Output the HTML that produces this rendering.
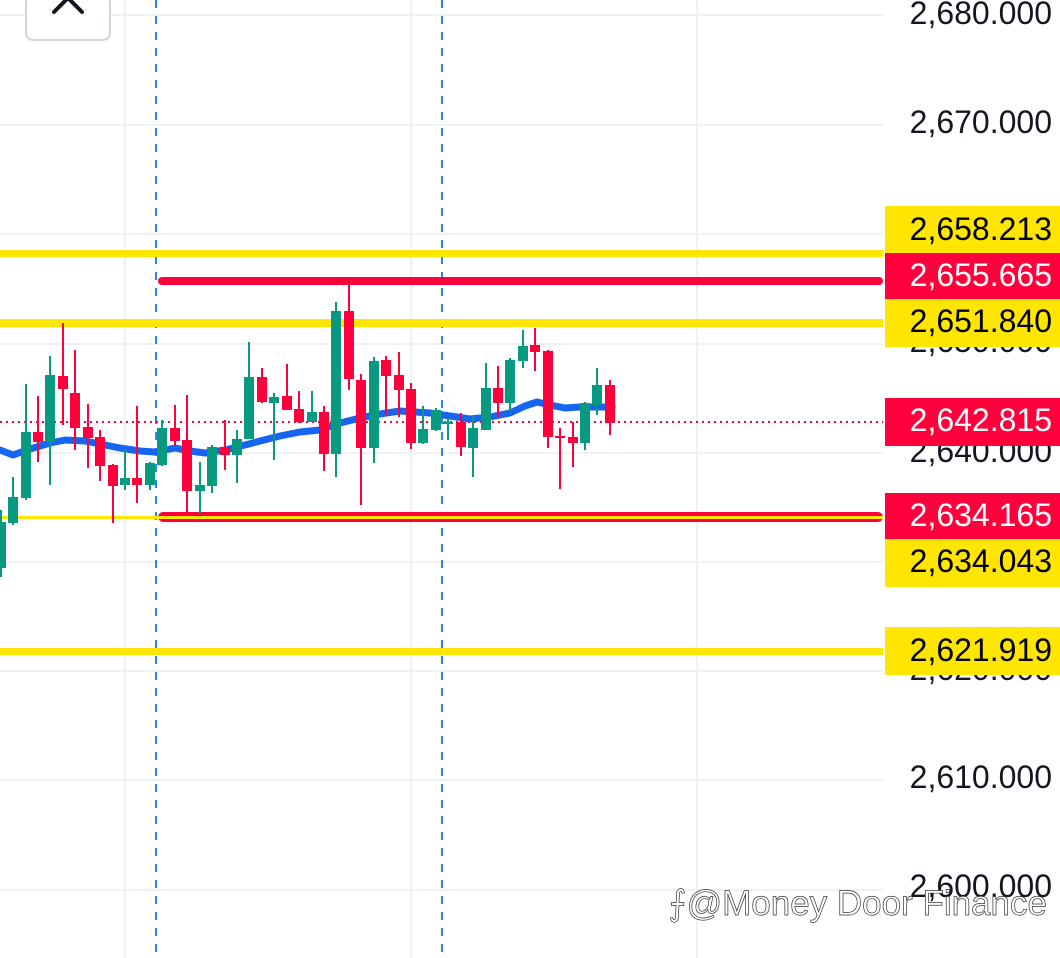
<!DOCTYPE html>
<html><head><meta charset="utf-8"><style>
html,body{margin:0;padding:0;background:#fff;}
svg{display:block;}
.lbl{font-family:"Liberation Sans",sans-serif;font-size:32px;}
</style></head><body>
<svg width="1060" height="958" viewBox="0 0 1060 958" xmlns="http://www.w3.org/2000/svg">
<g stroke="#f0f1f3" stroke-width="2">
<line x1="0" y1="15" x2="883" y2="15"/><line x1="0" y1="125" x2="883" y2="125"/><line x1="0" y1="234" x2="883" y2="234"/><line x1="0" y1="344" x2="883" y2="344"/><line x1="0" y1="453" x2="883" y2="453"/><line x1="0" y1="562" x2="883" y2="562"/><line x1="0" y1="671" x2="883" y2="671"/><line x1="0" y1="780" x2="883" y2="780"/><line x1="0" y1="890" x2="883" y2="890"/>
<line x1="125" y1="0" x2="125" y2="958"/><line x1="411" y1="0" x2="411" y2="958"/><line x1="697" y1="0" x2="697" y2="958"/>
</g>
<g stroke="#2e86ea" stroke-width="2" stroke-dasharray="8,8">
<line x1="156" y1="0" x2="156" y2="958"/><line x1="442" y1="0" x2="442" y2="958"/>
</g>
<rect x="26" y="-10" width="84" height="50" rx="7" fill="#fff" stroke="#d1d4dc" stroke-width="2"/>
<polyline points="54,12 68,-2 82,12" fill="none" stroke="#131722" stroke-width="4" stroke-linecap="round"/>
<rect x="0" y="250" width="883" height="7" fill="#ffe600"/>
<rect x="0" y="319" width="883" height="8" fill="#ffe600"/>
<rect x="0" y="648" width="883" height="7" fill="#ffe600"/>
<rect x="158" y="277" width="725" height="8" rx="4" fill="#ff003c"/>
<rect x="158" y="512" width="725" height="10" rx="5" fill="#ff003c"/>
<rect x="0" y="516" width="883" height="3" fill="#ffe600"/>
<line x1="0" y1="422" x2="883" y2="422" stroke="#ff003c" stroke-width="2" stroke-dasharray="2,4"/>
<polyline fill="none" stroke="#1565f0" stroke-width="7" stroke-linejoin="round" stroke-linecap="round" points="0,450 13,455 30,449 50,443 65,440 85,441 100,444 120,448 140,451 155,452 175,448 190,451 205,453 225,450 245,445 260,441 280,436 300,432 320,430 340,423 360,418 380,414 400,411 415,412 430,413 450,416 470,419 490,417 510,413 525,406 537,402 550,405 565,408 580,407 600,407 612,407"/>
<g id="candles"></g>
<g class="lbl" fill="#131722" text-anchor="end">
<text x="1052" y="24">2,680.000</text>
<text x="1052" y="133">2,670.000</text>
<text x="1052" y="352">2,650.000</text>
<text x="1052" y="462">2,640.000</text>
<text x="1052" y="680">2,620.000</text>
<text x="1052" y="788">2,610.000</text>
<text x="1052" y="897">2,600.000</text>
</g>
<rect x="885" y="206" width="175" height="47" fill="#ffe600"/><text x="1052" y="240" text-anchor="end" class="lbl" fill="#000">2,658.213</text>
<rect x="885" y="253" width="175" height="46" fill="#ff003c"/><text x="1052" y="286" text-anchor="end" class="lbl" fill="#fff">2,655.665</text>
<rect x="885" y="299" width="175" height="48" fill="#ffe600"/><text x="1052" y="332" text-anchor="end" class="lbl" fill="#000">2,651.840</text>
<rect x="885" y="398" width="175" height="48" fill="#ff003c"/><text x="1052" y="431" text-anchor="end" class="lbl" fill="#fff">2,642.815</text>
<rect x="885" y="493" width="175" height="46" fill="#ff003c"/><text x="1052" y="526" text-anchor="end" class="lbl" fill="#fff">2,634.165</text>
<rect x="885" y="539" width="175" height="48" fill="#ffe600"/><text x="1052" y="572" text-anchor="end" class="lbl" fill="#000">2,634.043</text>
<rect x="885" y="627" width="175" height="48" fill="#ffe600"/><text x="1052" y="661" text-anchor="end" class="lbl" fill="#000">2,621.919</text>
<text x="1047" y="915" text-anchor="end" font-family="Liberation Sans,sans-serif" font-size="35" fill="#fff" stroke="#333" stroke-width="0.7">⨍@Money  Door Finance</text>
</svg>
<script>
var d=[[1,522,568,510,577,'g'],[13,497,523,477,525,'g'],[26,432,498,384,500,'g'],[38,432,442,396,462,'r'],[50,375,442,356,485,'g'],[63,376,389,323,425,'r'],[75,393,428,350,450,'r'],[88,427,438,404,468,'r'],[100,437,466,430,481,'r'],[113,465,486,464,523,'r'],[125,478,485,449,490,'g'],[137,478,485,406,503,'r'],[150,463,485,462,490,'g'],[162,428,465,420,466,'g'],[175,428,441,405,446,'r'],[187,440,491,395,512,'r'],[200,485,491,462,513,'g'],[212,447,486,445,493,'g'],[225,447,455,420,470,'r'],[237,439,455,430,483,'g'],[249,377,439,342,439,'g'],[262,377,402,368,403,'r'],[274,397,403,393,460,'g'],[287,396,410,364,410,'r'],[299,409,422,391,423,'r'],[312,412,422,391,422,'g'],[324,412,454,406,471,'r'],[336,311,454,302,477,'g'],[349,311,379,285,390,'r'],[361,380,448,374,505,'r'],[374,361,448,357,463,'g'],[386,360,376,356,415,'r'],[399,375,390,352,417,'r'],[411,389,443,383,449,'r'],[423,429,443,406,444,'g'],[436,410,430,408,431,'g'],[448,422,424,418,440,'g'],[461,422,447,413,456,'r'],[473,428,448,416,477,'g'],[486,388,430,363,430,'g'],[498,388,403,366,417,'r'],[510,360,403,358,411,'g'],[523,346,361,330,368,'g'],[535,345,352,328,371,'r'],[548,351,437,350,448,'r'],[560,436,438,428,489,'r'],[573,437,443,422,467,'r'],[585,403,443,402,450,'g'],[597,385,405,368,415,'g'],[610,385,423,380,435,'r']];
var s='';d.forEach(function(c){var col=c[5]=='g'?'#089981':'#ff003c';var t=Math.min(c[1],c[2]),b=Math.max(c[1],c[2]);if(b-t<2)b=t+2;
s+='<rect x="'+(c[0]-1)+'" y="'+c[3]+'" width="2" height="'+(c[4]-c[3])+'" fill="'+col+'"/>';
s+='<rect x="'+(c[0]-5)+'" y="'+t+'" width="10" height="'+(b-t)+'" fill="'+col+'"/>';});
document.getElementById('candles').innerHTML=s;
</script>
</body></html>
